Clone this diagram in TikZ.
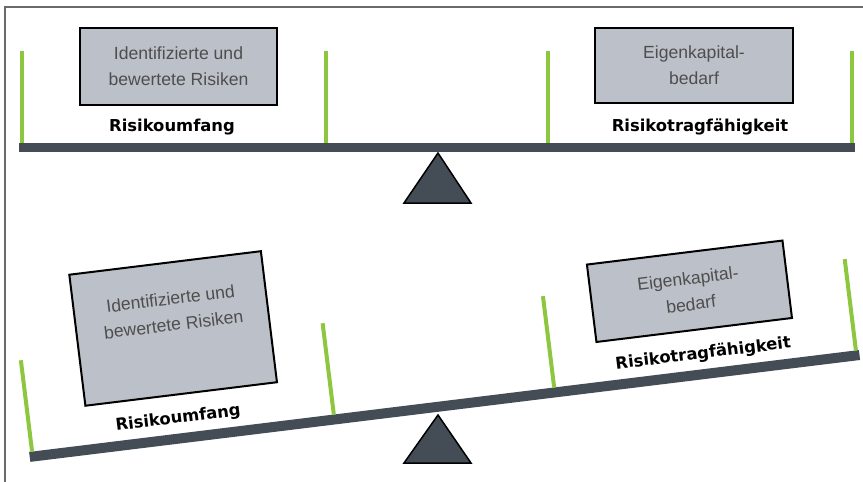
\documentclass[tikz,border=0pt]{standalone}
\usepackage{fontspec}
\setmainfont{Liberation Sans}
\newfontfamily\labfont{DejaVu Sans}
\definecolor{beamc}{HTML}{444D56}
\definecolor{postc}{HTML}{8DC63F}
\definecolor{boxc}{HTML}{BCC0C8}
\definecolor{txtc}{HTML}{4E4E4E}
\definecolor{framec}{HTML}{6A6A6A}
\begin{document}
\begin{tikzpicture}[x=1pt,y=1pt,
  beam/.style={fill=beamc},
  post/.style={draw=postc,line width=4pt},
  wbox/.style={draw=black,line width=2pt,fill=boxc,inner sep=0pt},
  wtxt/.style={text=txtc,align=center,font=\fontsize{17.6}{26}\selectfont,inner sep=0pt},
  lab/.style={font=\labfont\bfseries\fontsize{16.4}{18}\selectfont,inner sep=0pt,anchor=base},
  pivot/.style={fill=beamc,draw=black,line width=1.5pt,line join=miter}]
\useasboundingbox (0,0) rectangle (863,-482);
\coordinate (fbl) at (5,-482);
\coordinate (ftl) at (5,-7);
\coordinate (ftr) at (863,-7);
\draw[framec,line width=1.5pt] (fbl) -- (ftl) -- (ftr);

% ---------- top balance ----------
\begin{scope}[shift={(437,-143)}]
  \fill[beam] (-418,0) rectangle (418,-9);
  \foreach \i/\x in {1/-415,2/-111,3/111,4/415}{
    \coordinate (ta\i) at (\x,0);
    \coordinate (tb\i) at (\x,92);
    \draw[post] (ta\i) -- (tb\i);
  }
  \node[wbox,minimum width=197,minimum height=77] (riskA) at (-258.5,76.5) {};
  \node[wtxt] (riskAtxt) at (riskA.center) {Identifizierte und\\bewertete Risiken};
  \node[wbox,minimum width=198,minimum height=75] (ekA) at (257,77.5) {};
  \node[wtxt] (ekAtxt) at (ekA.center) {Eigenkapital-\\bedarf};
  \node[lab] (umfA) at (-265,11.5) {Risikoumfang};
  \node[lab] (rtfA) at (263,11.5) {Risikotragfähigkeit};
\end{scope}
\coordinate (tapex) at (438,-153);
\coordinate (tbl) at (404,-203);
\coordinate (tbr) at (471,-203);
\draw[pivot] (tapex) -- (tbl) -- (tbr) -- cycle;

% ---------- bottom (tilted) balance ----------
\begin{scope}[shift={(444,-401)},rotate=7,transform shape]
  \fill[beam] (-418,0) rectangle (418,-10);
  \foreach \i/\x in {1/-415,2/-111,3/111,4/415}{
    \coordinate (ba\i) at (\x,0);
    \coordinate (bb\i) at (\x,92);
    \draw[post] (ba\i) -- (bb\i);
  }
  \node[wbox,minimum width=193,minimum height=132] (riskB) at (-260,105) {};
  \node[wtxt] (riskBtxt) at (-259,122) {Identifizierte und\\bewertete Risiken};
  \node[wbox,minimum width=197,minimum height=78] (ekB) at (257,79) {};
  \node[wtxt] (ekBtxt) at (ekB.center) {Eigenkapital-\\bedarf};
  \node[lab] (umfB) at (-266,10.5) {Risikoumfang};
  \node[lab] (rtfB) at (263,10.5) {Risikotragfähigkeit};
\end{scope}
\coordinate (bapex) at (438,-415);
\coordinate (bbl) at (404,-463);
\coordinate (bbr) at (471,-463);
\draw[pivot] (bapex) -- (bbl) -- (bbr) -- cycle;
\end{tikzpicture}
\end{document}
